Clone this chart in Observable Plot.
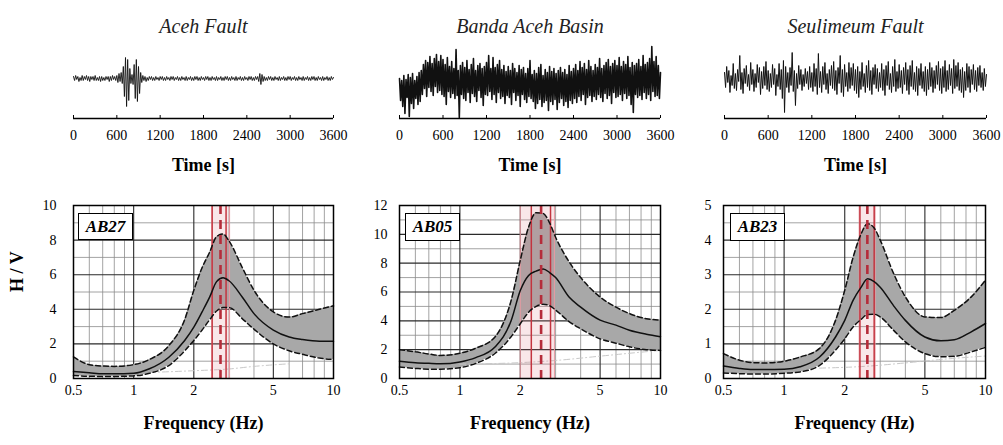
<!DOCTYPE html>
<html><head><meta charset="utf-8">
<script src="https://cdn.jsdelivr.net/npm/d3@7"></script>
<script src="https://cdn.jsdelivr.net/npm/@observablehq/plot@0.6"></script>
<style>
body{margin:0;background:#fff;}
#wrap{position:relative;width:1003px;height:445px;overflow:hidden;background:#fff;}
#wrap, #wrap svg, #wrap svg text, .tag{font-family:"Liberation Serif","Times New Roman",Tinos,"DejaVu Serif","Noto Serif",serif !important;}
.p{position:absolute;}
.tag{position:absolute;border:1.5px solid #000;background:#fff;font-style:italic;font-weight:bold;font-size:17px;display:flex;align-items:center;justify-content:center;box-sizing:border-box;}
</style></head><body><div id="wrap"></div>
<script>
// ---------- data ----------
const stations = ["Aceh Fault", "Banda Aceh Basin", "Seulimeum Fault"];
const siteIds = ["AB27", "AB05", "AB23"];
const dt = 15; // seconds between trace samples
const timeTicks = [0, 600, 1200, 1800, 2400, 3000, 3600];

const traceAceh = [
 2,-2,3,-1,2,-3,1,-2,3,-2,2,-1,3,-2,2,-3,2,-1,2,-2,
 3,-2,1,-2,2,-3,2,-2,1,-2,2,-1,2,-3,2,-2,3,-1,2,-2,
 3,-4,5,-3,6,-5,12,-18,21,-28,19,-22,10,-5,4,-6,14,-20,19,-23,
 12,-15,6,-4,3,-2,2,-3,1,-2,2,-1,2,-2,1,-2,2,-1,1,-2,
 2,-1,2,-2,1,-2,2,-1,1,-2,2,-1,2,-2,1,-1,2,-2,1,-2,
 2,-1,1,-2,2,-2,1,-1,2,-2,1,-2,2,-1,2,-2,1,-2,2,-1,
 1,-2,2,-1,2,-2,1,-2,2,-1,1,-2,2,-2,1,-1,2,-2,1,-2,
 2,-1,2,-2,1,-2,2,-1,1,-2,2,-2,1,-1,2,-2,1,-2,2,-1,
 1,-2,2,-1,2,-2,1,-2,2,-1,2,-3,5,-6,4,-3,2,-2,1,-2,
 2,-1,2,-2,1,-2,2,-1,1,-2,2,-2,1,-1,2,-2,1,-2,2,-1,
 2,-2,1,-1,2,-2,1,-2,2,-1,1,-2,2,-2,1,-1,2,-2,1,-2,
 2,-1,2,-2,1,-2,2,-1,1,-2,2,-2,1,-1,2,-2,1,-2,2,-1,
 1];
const traceBanda = [
 4,-18,2,-24,7,-31,3,-15,8,-34,5,-21,9,-26,2,-16,6,-22,10,-19,
 12,-12,18,-6,22,-14,20,-5,26,-9,19,-13,24,-4,28,-10,21,-8,27,-12,
 23,-14,18,-22,25,-9,16,-15,21,-11,14,-16,33,-13,12,-35,17,-12,20,-16,
 15,-18,22,-10,13,-20,18,-11,24,-14,12,-19,17,-8,19,-15,14,-23,16,-12,
 20,-13,27,-9,14,-17,25,-12,15,-20,18,-10,22,-16,13,-14,17,-21,11,-13,
 16,-15,12,-22,19,-10,14,-18,10,-13,17,-24,13,-12,15,-17,9,-20,14,-14,
 22,-16,8,-19,12,-26,9,-21,15,-17,18,-24,7,-20,13,-18,10,-28,16,-19,
 11,-22,14,-17,9,-27,12,-20,15,-16,10,-23,13,-19,8,-25,17,-18,11,-21,
 14,-16,18,-20,12,-14,21,-18,15,-12,19,-22,13,-15,22,-13,16,-19,12,-14,
 18,-17,15,-12,24,-15,14,-19,17,-11,20,-16,23,-13,16,-21,19,-10,22,-15,
 17,-14,25,-12,16,-18,21,-11,18,-16,26,-13,15,-22,20,-30,17,-12,19,-15,
 23,-13,16,-17,27,-10,18,-16,20,-12,24,-18,36,-9,21,-14,26,-13,17,-16,
 10];
const traceSeul = [
 6,-9,12,-4,8,-14,3,-7,15,-10,5,-12,9,-3,23,-11,6,-15,10,-5,
 13,-8,4,-12,16,-6,9,-13,5,-9,14,-4,11,-16,7,-10,12,-7,17,-11,
 8,-13,5,-9,14,-6,10,-17,4,-8,15,-11,9,-20,18,-34,12,-9,6,-14,
 11,-7,26,-13,8,-27,5,-10,13,-6,9,-12,4,-8,10,-5,7,-11,12,-9,
 6,-13,15,-8,10,-16,25,-9,7,-14,12,-6,16,-11,5,-15,9,-7,13,-10,
 17,-12,8,-16,11,-5,23,-14,9,-18,14,-8,6,-13,16,-10,11,-7,15,-12,
 9,-15,12,-19,7,-11,16,-8,5,-14,13,-9,18,-12,8,-16,11,-6,14,-10,
 10,-13,6,-9,15,-12,9,-17,13,-7,17,-11,5,-14,12,-8,19,-13,7,-10,
 14,-9,8,-15,11,-6,16,-12,9,-16,13,-8,18,-11,6,-13,12,-17,10,-7,
 15,-10,7,-13,12,-17,9,-11,16,-8,11,-14,8,-10,13,-6,17,-12,10,-15,
 12,-9,18,-13,8,-11,14,-7,10,-15,19,-10,13,-8,16,-12,9,-14,11,-19,
 7,-12,15,-9,12,-14,9,-6,14,-11,8,-13,11,-7,13,-9,6,-12,10,-8,
 4];
const traceDomains = [[-40, 40], [-36, 44], [-40, 40]];

const freqs = [0.5,0.6,0.7,0.8,1.0,1.2,1.5,1.8,2.0,2.2,2.4,2.6,2.8,3.0,3.5,4.0,5.0,6.0,7.0,8.5,10];
const freqTicks = [0.5, 1, 2, 5, 10];
const freqMinor = [0.6, 0.7, 0.8, 0.9, 3, 4, 6, 7, 8, 9];
const freqMajor = [1, 2, 5];

const hvMeanAB27 = [0.40,0.33,0.27,0.27,0.30,0.56,1.23,2.2,2.97,3.85,4.7,5.6,5.82,5.65,4.7,3.75,2.8,2.4,2.25,2.15,2.15];
const hvUpAB27   = [1.25,0.80,0.72,0.70,0.80,1.10,1.9,3.4,5.1,6.4,7.3,8.2,8.35,7.95,6.4,5.1,3.85,3.55,3.75,4.0,4.2];
const hvLoAB27   = [0.18,0.13,0.12,0.12,0.15,0.30,0.75,1.6,2.2,2.8,3.4,3.9,4.1,4.1,3.45,2.85,2.0,1.6,1.4,1.18,1.1];

const hvMeanAB05 = [1.20,1.10,1.05,1.02,1.15,1.45,2.2,4.0,6.1,7.15,7.45,7.6,7.35,7.0,5.65,4.95,4.05,3.7,3.35,3.07,2.9];
const hvUpAB05   = [2.0,1.85,1.7,1.6,1.75,2.1,2.9,5.4,8.2,10.5,11.5,11.45,10.8,9.8,8.1,7.0,5.65,4.95,4.5,4.15,4.05];
const hvLoAB05   = [0.8,0.7,0.65,0.65,0.75,1.05,1.75,2.9,3.8,4.6,5.0,5.15,5.05,4.75,3.95,3.45,2.75,2.45,2.2,2.0,1.95];

const hvMeanAB23 = [0.36,0.29,0.26,0.26,0.27,0.34,0.62,1.2,1.68,2.26,2.62,2.88,2.8,2.64,2.1,1.68,1.2,1.09,1.12,1.35,1.59];
const hvUpAB23   = [0.72,0.53,0.46,0.45,0.50,0.62,0.87,1.68,2.55,3.5,4.15,4.47,4.35,4.0,3.03,2.36,1.78,1.76,1.97,2.36,2.84];
const hvLoAB23   = [0.16,0.14,0.13,0.13,0.15,0.19,0.38,0.82,1.15,1.49,1.7,1.85,1.86,1.78,1.39,1.06,0.72,0.63,0.64,0.77,0.9];

const refF1 = [1.2, 2, 3, 4, 6],        refV1 = [0.35, 0.45, 0.55, 0.7, 0.85];
const refF2 = [1, 2, 3, 5, 7, 10],      refV2 = [1.0, 1.1, 1.25, 1.55, 1.75, 1.95];
const refF3 = [1.5, 2.5, 4, 6, 10],     refV3 = [0.3, 0.35, 0.45, 0.55, 0.65];

const peakF   = [2.72, 2.54, 2.59];
const sigLo   = [2.47, 2.27, 2.38];
const sigHi   = [2.90, 2.83, 2.80];
const bandLo  = [2.47, 2.00, 2.36];
const bandHi  = [3.02, 2.96, 2.83];

const yMax = [10, 12, 5];
const yTicks = [[0,2,4,6,8,10],[0,2,4,6,8,10,12],[0,1,2,3,4,5]];
const yMajor = [[2,4,6,8],[2,4,6,8,10],[1,2,3,4]];
const yMinor = [[1,3,5,7,9],[1,3,5,7,9,11],[0.5,1.5,2.5,3.5,4.5]];

// ---------- layout ----------
const traces = [traceAceh, traceBanda, traceSeul];
const traceWidths = [0.9, 1.6, 1.0];
const hv = [
  [hvMeanAB27, hvUpAB27, hvLoAB27],
  [hvMeanAB05, hvUpAB05, hvLoAB05],
  [hvMeanAB23, hvUpAB23, hvLoAB23]
];
const refs = [[refF1, refV1], [refF2, refV2], [refF3, refV3]];
const topLay = [
  {left: 0,   ml: 73, mr: 12, w: 345},
  {left: 340, ml: 59, mr: 12, w: 332},
  {left: 670, ml: 54, mr: 17, w: 333}
];
const botLay = [
  {left: 0,   ml: 73, mr: 12, w: 345, pad: 17},
  {left: 340, ml: 59, mr: 12, w: 332, pad: 12},
  {left: 670, ml: 53, mr: 18, w: 333, pad: 12}
];
const tagLay = [
  {x: 78, y: 213, w: 55, h: 27},
  {x: 405, y: 213, w: 55, h: 28},
  {x: 730, y: 213, w: 55, h: 28}
];
const font = "'Liberation Serif', 'Times New Roman', Tinos, 'DejaVu Serif', 'Noto Serif', serif";
const fmt = d => String(d);
const wrap = document.getElementById("wrap");

function place(el, left, top) {
  const d = document.createElement("div");
  d.className = "p";
  d.style.left = left + "px";
  d.style.top = top + "px";
  d.appendChild(el);
  wrap.appendChild(d);
}

for (let k = 0; k < 3; k++) {
  // --- seismogram ---
  const L = topLay[k];
  const dom = traceDomains[k];
  const tr = traces[k].map((v, i) => ({t: i * dt, v}));
  const top = Plot.plot({
    width: L.w, height: 190,
    marginTop: 38, marginBottom: 72, marginLeft: L.ml, marginRight: L.mr,
    style: {background: "transparent", fontFamily: font, fontSize: "14px", color: "#000", overflow: "visible"},
    x: {domain: [0, 3600], ticks: timeTicks, tickFormat: fmt, tickSize: 0, tickPadding: 12, label: null},
    y: {domain: dom, axis: null},
    marks: [
      Plot.line(tr, {x: "t", y: "v", stroke: "#111", strokeWidth: traceWidths[k]}),
      Plot.ruleY([dom[0]], {stroke: "#000", strokeWidth: 1.6}),
      Plot.ruleX(timeTicks, {y1: dom[0], y2: dom[0] + 3, stroke: "#000", strokeWidth: 1}),
      Plot.text([stations[k]], {text: d => d, frameAnchor: "top", dy: -20, fontStyle: "italic", fontSize: 20, fill: "#222"}),
      Plot.text(["Time [s]"], {text: d => d, frameAnchor: "bottom", dy: 52, fontWeight: "bold", fontSize: 18})
    ]
  });
  place(top, L.left, 0);

  // --- H/V curve ---
  const B = botLay[k];
  const [m, u, l] = hv[k];
  const rows = freqs.map((f, i) => ({f, m: m[i], u: u[i], l: l[i]}));
  const refRows = refs[k][0].map((f, i) => ({f, v: refs[k][1][i]}));
  const curve = "monotone-x";
  const marks = [
    Plot.ruleX(freqMinor, {stroke: "#8c8c8c", strokeWidth: 0.8}),
    Plot.ruleY(yMinor[k], {stroke: "#8c8c8c", strokeWidth: 0.8}),
    Plot.ruleX(freqMajor, {stroke: "#2a2a2a", strokeWidth: 1.1}),
    Plot.ruleY(yMajor[k], {stroke: "#2a2a2a", strokeWidth: 1.1}),
    Plot.areaY(rows, {x: "f", y1: "l", y2: "u", fill: "#a8a8a8", curve}),
    Plot.line(refRows, {x: "f", y: "v", stroke: "#c8c8c8", strokeWidth: 1, strokeDasharray: "6,3,1,3", curve}),
    Plot.rect([0], {x1: () => bandLo[k], x2: () => bandHi[k], fill: "#e07a86", fillOpacity: 0.18}),
    Plot.ruleX([bandLo[k], bandHi[k]], {stroke: "#e79aa2", strokeWidth: 1}),
    Plot.ruleX([sigLo[k], sigHi[k]], {stroke: "#c3343f", strokeWidth: 1.5}),
    Plot.line(rows, {x: "f", y: "u", stroke: "#111", strokeWidth: 1.5, strokeDasharray: "5,3", curve}),
    Plot.line(rows, {x: "f", y: "l", stroke: "#111", strokeWidth: 1.5, strokeDasharray: "5,3", curve}),
    Plot.line(rows, {x: "f", y: "m", stroke: "#111", strokeWidth: 1.5, curve}),
    Plot.ruleX([peakF[k]], {stroke: "#b52c3a", strokeWidth: 2.6, strokeDasharray: "9,6"}),
    Plot.frame({stroke: "#000", strokeWidth: 1.5}),
    Plot.text(["Frequency (Hz)"], {text: d => d, frameAnchor: "bottom", dy: 50, fontWeight: "bold", fontSize: 18})
  ];
  if (k === 0) marks.push(Plot.text(["H / V"], {text: d => d, frameAnchor: "left", dx: -56, rotate: -90, fontWeight: "bold", fontSize: 18}));
  const bot = Plot.plot({
    width: B.w, height: 255,
    marginTop: 15, marginBottom: 67, marginLeft: B.ml, marginRight: B.mr,
    style: {background: "transparent", fontFamily: font, fontSize: "14px", color: "#000", overflow: "visible"},
    x: {type: "log", domain: [0.5, 10], ticks: freqTicks, tickFormat: fmt, tickSize: 0, tickPadding: 7, label: null},
    y: {domain: [0, yMax[k]], ticks: yTicks[k], tickFormat: fmt, tickSize: 0, tickPadding: B.pad, label: null},
    marks
  });
  place(bot, B.left, 190);

  // --- station tag ---
  const T = tagLay[k];
  const tag = document.createElement("div");
  tag.className = "tag";
  tag.style.left = T.x + "px";
  tag.style.top = T.y + "px";
  tag.style.width = T.w + "px";
  tag.style.height = T.h + "px";
  tag.textContent = siteIds[k];
  wrap.appendChild(tag);
}
</script>
</body></html>
